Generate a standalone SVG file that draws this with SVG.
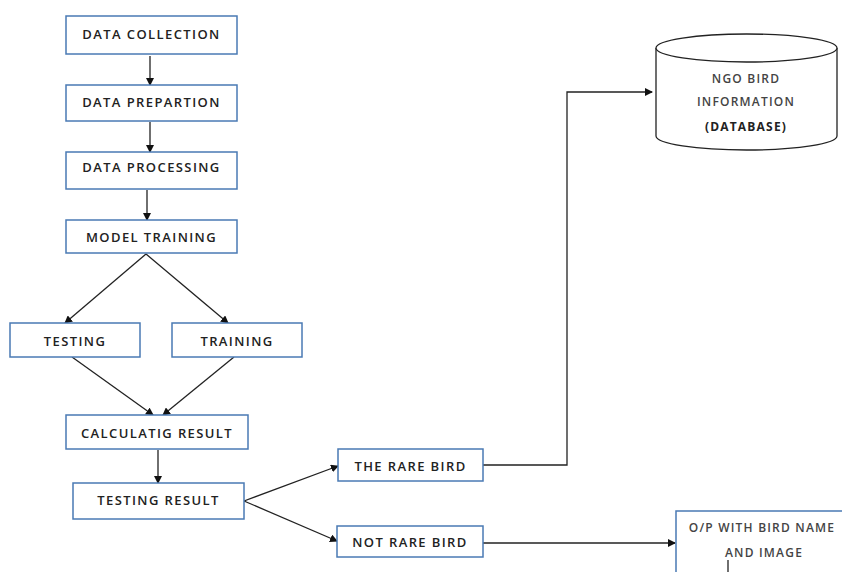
<svg xmlns="http://www.w3.org/2000/svg" width="842" height="572" viewBox="0 0 842 572">
<style>
.box{fill:#fff;stroke:#4a7ab4;stroke-width:1.5}
.t{font-family:"Open Sans","Liberation Sans",sans-serif;font-size:13px;font-weight:600;fill:#222;text-anchor:middle;letter-spacing:1.4px}
.s{font-family:"Open Sans","Liberation Sans",sans-serif;font-size:12px;font-weight:600;fill:#444;text-anchor:middle;letter-spacing:1.2px}
.b{font-weight:700;fill:#222}
.c{fill:none;stroke:#222;stroke-width:1.3}
.cyl{fill:#fff;stroke:#222;stroke-width:1.3}
</style>
<defs>
<marker id="a" markerWidth="8" markerHeight="8" refX="7" refY="4" orient="auto" markerUnits="userSpaceOnUse">
<path d="M0,0 L8,4 L0,8 Z" fill="#111"/>
</marker>
</defs>
<rect width="842" height="572" fill="#fff"/>
<g id="connectors">
<line class="c" x1="150" y1="56" x2="150" y2="85" marker-end="url(#a)"/>
<line class="c" x1="150" y1="122" x2="150" y2="152" marker-end="url(#a)"/>
<line class="c" x1="147" y1="190" x2="147" y2="220" marker-end="url(#a)"/>
<line class="c" x1="146" y1="254" x2="65" y2="323" marker-end="url(#a)"/>
<line class="c" x1="146" y1="254" x2="228" y2="323" marker-end="url(#a)"/>
<line class="c" x1="72" y1="357" x2="153" y2="415" marker-end="url(#a)"/>
<line class="c" x1="234" y1="357" x2="163" y2="415" marker-end="url(#a)"/>
<line class="c" x1="158" y1="450" x2="158" y2="483" marker-end="url(#a)"/>
<line class="c" x1="244" y1="501" x2="338" y2="466" marker-end="url(#a)"/>
<line class="c" x1="244" y1="501" x2="337" y2="541" marker-end="url(#a)"/>
<polyline class="c" points="483,465 567,465 567,92 652,92" marker-end="url(#a)"/>
<line class="c" x1="483" y1="543" x2="675" y2="543" marker-end="url(#a)"/>
</g>
<g id="n1"><rect class="box" x="66" y="16" width="171" height="38"/><text class="t" x="151.5" y="39">DATA COLLECTION</text></g>
<g id="n2"><rect class="box" x="66" y="85" width="171" height="36"/><text class="t" x="151.5" y="107">DATA PREPARTION</text></g>
<g id="n3"><rect class="box" x="66" y="152" width="171" height="37"/><text class="t" x="151.5" y="172">DATA PROCESSING</text></g>
<g id="n4"><rect class="box" x="66" y="220" width="171" height="33"/><text class="t" x="151.5" y="242">MODEL TRAINING</text></g>
<g id="n5"><rect class="box" x="10" y="323" width="130" height="34"/><text class="t" x="75" y="346">TESTING</text></g>
<g id="n6"><rect class="box" x="172" y="323" width="130" height="34"/><text class="t" x="237" y="346">TRAINING</text></g>
<g id="n7"><rect class="box" x="66" y="415" width="182" height="34"/><text class="t" x="157" y="438">CALCULATIG RESULT</text></g>
<g id="n8"><rect class="box" x="73" y="483" width="171" height="36"/><text class="t" x="158.5" y="505">TESTING RESULT</text></g>
<g id="n9"><rect class="box" x="338" y="449" width="145" height="32"/><text class="t" x="410.5" y="471">THE RARE BIRD</text></g>
<g id="n10"><rect class="box" x="337" y="526" width="146" height="31"/><text class="t" x="410" y="547">NOT RARE BIRD</text></g>
<g id="n11">
<path class="cyl" d="M656,48 L656,136 A90.5,14 0 0 0 837,136 L837,48"/>
<ellipse class="cyl" cx="746.5" cy="48" rx="90.5" ry="14"/>
<text class="s" x="746" y="83">NGO BIRD</text>
<text class="s" x="746" y="106">INFORMATION</text>
<text class="s b" x="746" y="131">(DATABASE)</text>
</g>
<g id="n12"><rect class="box" x="676" y="511" width="170" height="62"/>
<text class="s" x="762" y="532">O/P WITH BIRD NAME</text>
<text class="s" x="764" y="557">AND IMAGE</text>
<line x1="728" y1="560" x2="728" y2="572" stroke="#222" stroke-width="1.3"/>
</g>
</svg>
